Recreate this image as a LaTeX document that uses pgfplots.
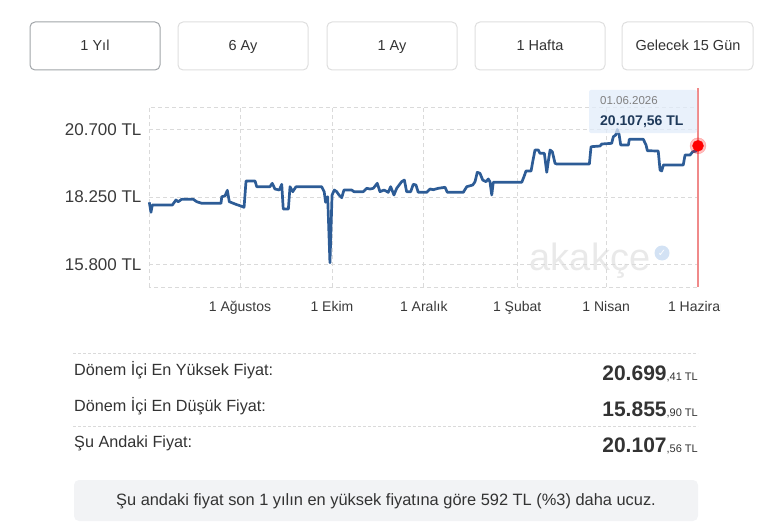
\documentclass[border=0pt]{standalone}
\usepackage{pgfplots}
\pgfplotsset{compat=1.18}
\usepackage{fontspec}
\setmainfont{Liberation Sans}
\newfontfamily\dejavu{DejaVu Sans}
\definecolor{linec}{HTML}{2D5C96}
\definecolor{gridc}{HTML}{DADADA}
\definecolor{txt}{HTML}{333333}
\definecolor{labc}{HTML}{3A3A3A}
\definecolor{btnb}{HTML}{DEDEDE}
\definecolor{btnsel}{HTML}{A0A4A8}
\definecolor{redl}{HTML}{F08A8A}
\definecolor{tipc}{HTML}{E2ECFA}
\definecolor{tipt}{HTML}{1F3A5A}
\definecolor{boxc}{HTML}{F2F3F5}
\definecolor{wmc}{HTML}{E9E9E9}
\definecolor{wmcheck}{HTML}{D3E2F4}
\begin{document}
\begin{tikzpicture}[x=1pt,y=1pt]
\path (0,0) rectangle (773,-524);
% buttons
\draw[btnsel, line width=1pt, rounded corners=5pt] (30,-22) rectangle (160,-70);
\foreach \xa/\xb in {178/308,327/457,475/605,622/753}
  \draw[btnb, line width=1pt, rounded corners=5pt] (\xa,-22) rectangle (\xb,-70);
\foreach \xc/\t in {95/{1 Yıl},243/{6 Ay},392/{1 Ay},540/{1 Hafta},688/{Gelecek 15 Gün}}
  \node[inner sep=0, anchor=base, text=txt, font=\fontsize{14.5}{16}\selectfont] at (\xc,-51) {\t};
% watermark
\node[inner sep=0, anchor=base, text=wmc, font=\fontsize{38}{40}\selectfont] at (590,-270) {akakçe};
\fill[wmcheck] (662,-253) circle (7.5);
\node[inner sep=0, text=white, font=\dejavu\fontsize{10}{10}\selectfont] at (662,-253) {✓};
\begin{scope}
\clip (0,-80) rectangle (720,-330);
\begin{axis}[at={(149pt,-287pt)}, anchor=south west, width=549pt, height=180pt, scale only axis,
  xmin=-60.4, xmax=304, ymin=14975, ymax=21518,
  scaled y ticks=false,
  xtick={0,61,122,184,243,304},
  xticklabels={1 Ağustos,1 Ekim,1 Aralık,1 Şubat,1 Nisan,1 Haziran},
  ytick={15800,18250,20700},
  yticklabels={15.800 TL,18.250 TL,20.700 TL},
  grid=major,
  major grid style={gridc, dash pattern=on 4pt off 3pt, line width=0.8pt},
  axis line style={gridc, dash pattern=on 4pt off 3pt, line width=0.8pt},
  major tick length=0pt,
  tick label style={text=labc},
  xticklabel style={font=\fontsize{14}{16}\selectfont, yshift=-11pt},
  yticklabel style={font=\fontsize{17}{19}\selectfont, xshift=-4pt},
  clip=false]
\addplot[linec, line width=2.7pt, line join=round] table {
-60.2 18054
-59.1 17690
-58.2 17956
-44.9 17956
-42.5 18137
-41.0 18076
-38.7 18163
-31.0 18163
-28.7 18076
-25.4 18017
-12.6 18017
-12.1 18257
-10.0 18283
-8.4 18490
-7.1 18076
-3.3 17992
0 17930
2.7 17872
4.0 18828
10.0 18828
11.1 18621
19.9 18621
21.4 18744
23.2 18537
26.1 18501
27.7 18708
28.7 17810
32.1 17810
33.2 18621
35.0 18439
37.2 18621
54.2 18621
55.9 18439
56.8 18054
58.2 18257
59.7 15855.90
61.1 18319
62.6 18501
64.2 18439
65.7 18319
67.5 18221
69.0 18501
74.1 18501
75.7 18439
81.8 18439
84.1 18563
86.3 18537
88.5 18563
91.1 18744
92.9 18439
95.6 18501
98.4 18417
100.0 18621
102.2 18319
104.0 18563
107.3 18803
109.1 18864
110.6 18439
113.3 18439
115.0 18708
116.8 18683
118.3 18417
123.9 18417
126.1 18537
128.3 18512
131.6 18563
136.1 18599
137.6 18417
148.2 18417
150.5 18621
154.5 18683
156.0 18803
157.5 19144
159.3 19108
161.1 18864
163.3 18803
164.8 18901
165.9 18803
167.1 18319
168.1 18781
187.0 18781
188.5 18984
189.8 19191
193.2 19191
194.3 19530
195.8 19955
198.0 19955
199.1 19835
202.0 19835
203.6 19144
204.6 19530
205.8 19955
207.3 19893
209.1 19471
210.2 19446
231.9 19446
233.0 20075
239.0 20100
240.1 20173
246.7 20198
247.8 20438
249.4 20500
250.4 20699.41
251.6 20526
252.7 20137
257.8 20137
258.4 20344
267.7 20344
269.5 20137
270.4 19929
277.6 19918
278.8 19228
279.9 19191
281.0 19410
294.2 19410
295.4 19773
298.7 19773
300.5 19893
303.0 19918
304 20107.56
};
\draw[redl, line width=1.5pt] (axis cs:304,14975) -- (axis cs:304,22208);
\addplot[only marks, mark=*, mark size=8pt, color=red, fill=red, opacity=0.25] coordinates {(304,20107.56)};
\addplot[only marks, mark=*, mark size=5.5pt, color=red, fill=red] coordinates {(304,20107.56)};
\end{axis}
\end{scope}
% tooltip
\fill[tipc, fill opacity=0.75, rounded corners=2pt] (589,-90) rectangle (697,-133);
\node[inner sep=0, anchor=base west, text=gray, font=\fontsize{11.5}{13}\selectfont] at (600,-105) {01.06.2026};
\node[inner sep=0, anchor=base west, text=tipt, font=\fontsize{14}{16}\selectfont\bfseries] at (600,-125) {20.107,56 TL};
% table
\draw[gridc, line width=0.8pt, dash pattern=on 3pt off 2pt] (73,-353.5) -- (698,-353.5);
\draw[gridc, line width=0.8pt, dash pattern=on 3pt off 2pt] (73,-426) -- (698,-426);
\begin{scope}[every node/.style={inner sep=0, text=txt}]
\node[anchor=base west, font=\fontsize{16.2}{18}\selectfont] at (74,-375) {Dönem İçi En Yüksek Fiyat:};
\node[anchor=base west, font=\fontsize{16.2}{18}\selectfont] at (74,-411.5) {Dönem İçi En Düşük Fiyat:};
\node[anchor=base west, font=\fontsize{16.2}{18}\selectfont] at (74,-447) {Şu Andaki Fiyat:};
\node[anchor=base east] at (698,-380) {\fontsize{21}{24}\selectfont\bfseries 20.699{\fontsize{11}{12}\selectfont\mdseries ,41 TL}};
\node[anchor=base east] at (698,-416.5) {\fontsize{21}{24}\selectfont\bfseries 15.855{\fontsize{11}{12}\selectfont\mdseries ,90 TL}};
\node[anchor=base east] at (698,-452) {\fontsize{21}{24}\selectfont\bfseries 20.107{\fontsize{11}{12}\selectfont\mdseries ,56 TL}};
\end{scope}
% bottom box
\fill[boxc, rounded corners=5pt] (74,-480) rectangle (698,-521);
\node[inner sep=0, anchor=base, text=txt, font=\fontsize{16.4}{18}\selectfont] at (386,-505.5) {Şu andaki fiyat son 1 yılın en yüksek fiyatına göre 592 TL (\%3) daha ucuz.};
\end{tikzpicture}
\end{document}
